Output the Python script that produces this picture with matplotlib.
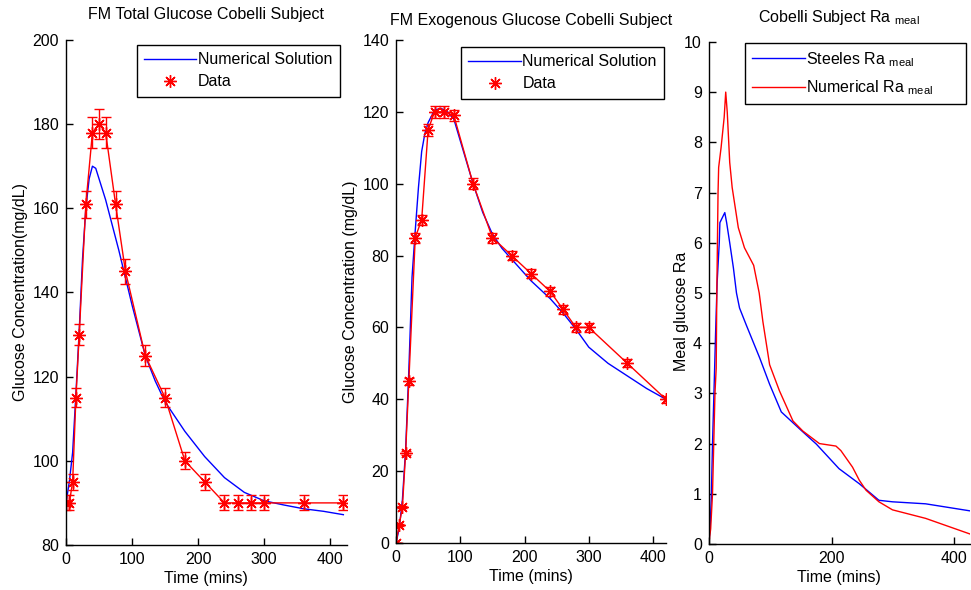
#!/usr/bin/env python3
"""Cobelli subject: total / exogenous glucose fits and meal Ra comparison."""

import matplotlib
matplotlib.use("Agg")
import matplotlib.pyplot as plt
from matplotlib.lines import Line2D

# ---------------------------------------------------------------------------
# Data
# ---------------------------------------------------------------------------
# sampling times of the measured glucose (mins)
data_time = [0, 5, 10, 15, 20, 30, 40, 50, 60, 75, 90, 120, 150, 180, 210,
             240, 260, 280, 300, 360, 420]

# total glucose (mg/dL)
total_data = [90, 90, 95, 115, 130, 161, 178, 180, 178, 161, 145, 125, 115,
              100, 95, 90, 90, 90, 90, 90, 90]
total_err = [1.8, 1.8, 1.9, 2.3, 2.6, 3.2, 3.6, 3.6, 3.6, 3.2, 2.9, 2.5, 2.3,
             2.0, 1.9, 1.8, 1.8, 1.8, 1.8, 1.8, 1.8]
total_model_time = [0, 5, 10, 15, 20, 25, 30, 35, 40, 45, 50, 60, 70, 80, 90,
                    100, 110, 120, 135, 150, 180, 210, 240, 270, 300, 330,
                    360, 390, 420]
total_model = [90, 95, 102, 116, 131, 148, 160, 167, 170, 169.5, 167, 162,
               156, 150, 143.5, 137, 131, 125, 119, 114, 107, 101, 96, 92.5,
               90.5, 89.5, 88.6, 88, 87.2]

# exogenous glucose (mg/dL)
exo_data = [0, 5, 10, 25, 45, 85, 90, 115, 120, 120, 119, 100, 85, 80, 75,
            70, 65, 60, 60, 50, 40]
exo_err = [0.1, 0.3, 0.4, 0.6, 0.9, 1.4, 1.4, 1.6, 1.6, 1.6, 1.6, 1.5, 1.4,
           1.3, 1.3, 1.2, 1.2, 1.2, 1.2, 1.1, 1.0]
exo_model_time = [0, 5, 10, 15, 20, 25, 30, 35, 40, 45, 50, 60, 70, 80, 90,
                  100, 110, 120, 135, 150, 165, 180, 210, 240, 260, 280, 300,
                  330, 360, 390, 420]
exo_model = [0, 4, 12, 26, 48, 74, 87, 99, 109, 114, 117, 120.5, 121, 120,
             118, 112, 106, 100, 92, 86, 82, 79, 73, 68, 64, 59.5, 54.5, 50,
             46.5, 43, 40]

# meal rate of appearance
steele_time = [0, 2, 4, 6, 9, 11, 13.5, 17, 18, 22, 26, 29, 34, 40, 45, 50,
               61, 83, 99, 118, 148, 175, 212, 245, 277, 299, 353, 425]
steele_ra = [0, 0.3, 0.9, 2.0, 3.3, 4.2, 5.2, 6.0, 6.4, 6.5, 6.6, 6.4, 6.0,
             5.5, 5.0, 4.7, 4.36, 3.7, 3.18, 2.63, 2.29, 1.99, 1.5, 1.2, 0.87,
             0.84, 0.8, 0.66]
numeric_time = [0, 3, 6, 8, 10, 12, 13, 15, 16, 20, 25, 27.5, 30, 34, 38, 48,
                58, 73, 82, 88, 99, 115, 137, 153, 180, 207, 215, 234, 245,
                256, 277, 299, 353, 425]
numeric_ra = [0, 0.3, 1.0, 2.0, 3.0, 3.5, 5.0, 7.0, 7.5, 7.9, 8.5, 9.0, 8.6,
              7.6, 7.1, 6.3, 5.9, 5.55, 5.0, 4.43, 3.57, 3.05, 2.45, 2.25, 2.0,
              1.95, 1.86, 1.53, 1.27, 1.07, 0.84, 0.68, 0.51, 0.2]

# ---------------------------------------------------------------------------
# Style
# ---------------------------------------------------------------------------
BLUE = "#0000ff"
RED = "#ff0000"
FS = 11.5
ASTERISK = (8, 2, 0)

plt.rcParams["font.family"] = ["Liberation Sans", "DejaVu Sans"]
plt.rcParams["mathtext.fontset"] = "custom"
plt.rcParams["mathtext.rm"] = "Liberation Sans"
plt.rcParams["font.size"] = FS


def style_ax(ax, xlim, ylim, xticks, yticks):
    ax.set_xlim(*xlim)
    ax.set_ylim(*ylim)
    ax.set_xticks(xticks)
    ax.set_yticks(yticks)
    ax.spines["top"].set_visible(False)
    ax.spines["right"].set_visible(False)
    for side in ("left", "bottom"):
        ax.spines[side].set_linewidth(1.0)
        ax.spines[side].set_color("black")
    ax.tick_params(direction="in", length=5, width=1.0, labelsize=FS, pad=5)
    ax.set_xlabel("Time (mins)", fontsize=FS, labelpad=3)


def add_legend(ax, handles, labels, anchor, spacing=0.45, **kw):
    opts = dict(loc="upper right", fontsize=FS, frameon=True, fancybox=False,
                framealpha=1, edgecolor="black", borderpad=0.45,
                handlelength=3.3, handletextpad=0.1, labelspacing=spacing,
                borderaxespad=0)
    opts.update(kw)
    leg = ax.legend(handles, labels, bbox_to_anchor=anchor, **opts)
    leg.get_frame().set_linewidth(1.0)


def data_panel(ax, mt, mv, dv, de):
    ax.plot(mt, mv, color=BLUE, lw=1.0)
    ax.errorbar(data_time, dv, yerr=de, color=RED, lw=1.0, elinewidth=1.0,
                capsize=3.5, capthick=1.0, marker=ASTERISK, markersize=9,
                markeredgewidth=1.0)


def main():
    fig = plt.figure(figsize=(9.71, 5.90), dpi=100)
    fig.patch.set_facecolor("white")

    line_h = Line2D([], [], color=BLUE, lw=1.0)
    star_h = Line2D([], [], color=RED, lw=0, marker=ASTERISK, markersize=9,
                    markeredgewidth=1.0)

    # ── 1. Total glucose ────────────────────────────────────────────────
    ax1 = fig.add_axes([0.068, 0.0763, 0.289, 0.856])
    data_panel(ax1, total_model_time, total_model, total_data, total_err)
    style_ax(ax1, (0, 425), (80, 200), [0, 100, 200, 300, 400],
             range(80, 201, 20))
    ax1.set_title("FM Total Glucose Cobelli Subject", fontsize=FS, pad=15)
    ax1.set_ylabel("Glucose Concentration(mg/dL)", fontsize=FS, labelpad=3)
    add_legend(ax1, [line_h, star_h], ["Numerical Solution", "Data"],
               (0.975, 0.990))

    # ── 2. Exogenous glucose ────────────────────────────────────────────
    ax2 = fig.add_axes([0.4078, 0.0797, 0.278, 0.8525])
    data_panel(ax2, exo_model_time, exo_model, exo_data, exo_err)
    style_ax(ax2, (0, 420), (0, 140), [0, 100, 200, 300, 400],
             range(0, 141, 20))
    ax2.set_title("FM Exogenous Glucose Cobelli Subject", fontsize=FS, pad=11)
    ax2.set_ylabel("Glucose Concentration (mg/dL)", fontsize=FS, labelpad=3)
    add_legend(ax2, [line_h, star_h], ["Numerical Solution", "Data"],
               (0.993, 0.986))

    # ── 3. Meal Ra ──────────────────────────────────────────────────────
    ax3 = fig.add_axes([0.730, 0.078, 0.2688, 0.851])
    ax3.plot(steele_time, steele_ra, color=BLUE, lw=1.0)
    ax3.plot(numeric_time, numeric_ra, color=RED, lw=1.0)
    style_ax(ax3, (0, 425), (0, 10), [0, 200, 400], range(0, 11))
    ax3.set_title(r"Cobelli Subject Ra $_{\mathrm{meal}}$", fontsize=FS,
                  pad=14)
    ax3.set_ylabel("Meal glucose Ra", fontsize=FS)
    ax3.yaxis.set_label_coords(-0.075, 0.464)
    # box stretched to the full legend width, entries left-aligned inside
    add_legend(ax3,
               [Line2D([], [], color=BLUE, lw=1.0),
                Line2D([], [], color=RED, lw=1.0)],
               [r"Steeles Ra $_{\mathrm{meal}}$",
                r"Numerical Ra $_{\mathrm{meal}}$"],
               (0.138, 0.5, 0.847, 0.498), spacing=0.6,
               loc="upper left", mode="expand")

    fig.savefig("out.png", dpi=100, facecolor="white")
    plt.close(fig)


if __name__ == "__main__":
    main()
